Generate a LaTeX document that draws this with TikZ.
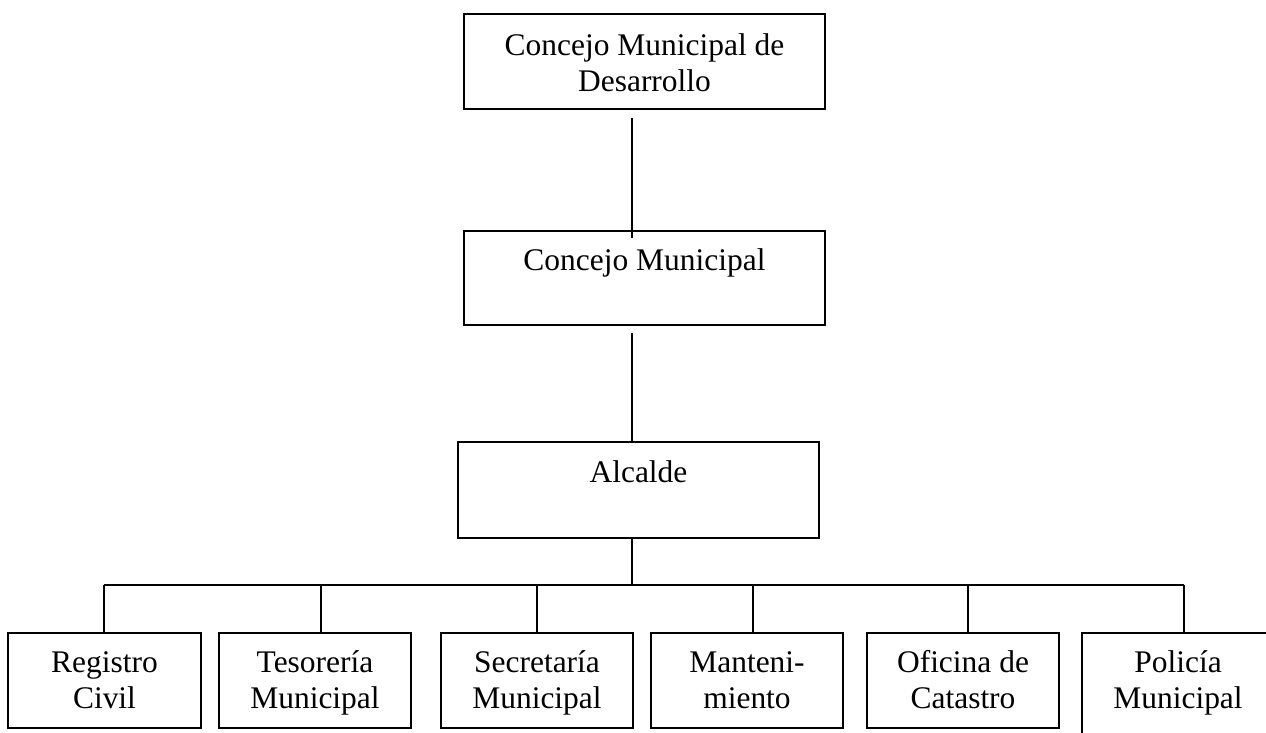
\documentclass[tikz,border=0pt]{standalone}
\usepackage{fontspec}
\setmainfont{Liberation Serif}
\newcommand\twolines[2]{\vtop{\halign{\hfil##\hfil\cr#1\cr#2\cr}}}
\tikzset{
  orgbox/.style={draw=black, line width=1.5pt, rectangle, inner sep=0pt, fill=none},
  topbox/.style={orgbox, minimum width=270.75pt, minimum height=71.25pt},
  subbox/.style={orgbox, minimum width=144.5pt, minimum height=71.25pt},
  lbl/.style={anchor=base, inner sep=0pt, font=\fontsize{23.6pt}{27.4pt}\selectfont},
  link/.style={draw=black, line width=1.5pt}
}
\begin{document}
\begin{tikzpicture}[x=0.75pt,y=-0.75pt]
\useasboundingbox (0,0) rectangle (1266,732);
\clip (0,0) rectangle (1266,732);
\fill[white] (0,0) rectangle (1266,732);
% upper boxes
\node[topbox] (b1) at (644.5,61.5) {};
\node[topbox, minimum height=70.5pt] (b2) at (644.5,278) {};
\node[topbox, minimum height=72pt] (b3) at (638.5,490) {};
\node[lbl] (t1) at (644.5,55) {\twolines{Concejo Municipal de}{Desarrollo}};
\node[lbl] (t2) at (644.5,270) {Concejo Municipal};
\node[lbl] (t3) at (638.5,482) {Alcalde};
% lower boxes
\node[subbox] (r) at (104.5,680.5) {};
\node[subbox] (t) at (315,680.5) {};
\node[subbox] (s) at (537,680.5) {};
\node[subbox] (m) at (747,680.5) {};
\node[subbox] (o) at (963,680.5) {};
\node[subbox, minimum height=102.75pt] (p) at (1178,701.5) {};
\node[lbl] (tr) at (104.5,672) {\twolines{Registro}{Civil}};
\node[lbl] (tt) at (315,672) {\twolines{Tesorería}{Municipal}};
\node[lbl] (ts) at (537,672) {\twolines{Secretaría}{Municipal}};
\node[lbl] (tm) at (747,672) {\twolines{Manteni-}{miento}};
\node[lbl] (to) at (963,672) {\twolines{Oficina de}{Catastro}};
\node[lbl] (tp) at (1178,672) {\twolines{Policía}{Municipal}};
% connectors
\coordinate (c1a) at (632,118);
\coordinate (c1b) at (632,238);
\coordinate (c2a) at (632,333);
\coordinate (c3a) at (632,538);
\coordinate (bar) at (632,585);
\draw[link] (c1a) -- (c1b);
\draw[link] (c2a) -- (c2a |- b3.north);
\draw[link] (c3a) -- (bar);
\coordinate (dr) at (104,585);
\coordinate (dt) at (321,585);
\coordinate (ds) at (537,585);
\coordinate (dm) at (753,585);
\coordinate (do) at (968,585);
\coordinate (dp) at (1184,585);
\draw[link] (dr) -- (dp);
\draw[link] (dr) -- (dr |- r.north);
\draw[link] (dt) -- (dt |- t.north);
\draw[link] (ds) -- (ds |- s.north);
\draw[link] (dm) -- (dm |- m.north);
\draw[link] (do) -- (do |- o.north);
\draw[link] (dp) -- (dp |- p.north);
\end{tikzpicture}
\end{document}
